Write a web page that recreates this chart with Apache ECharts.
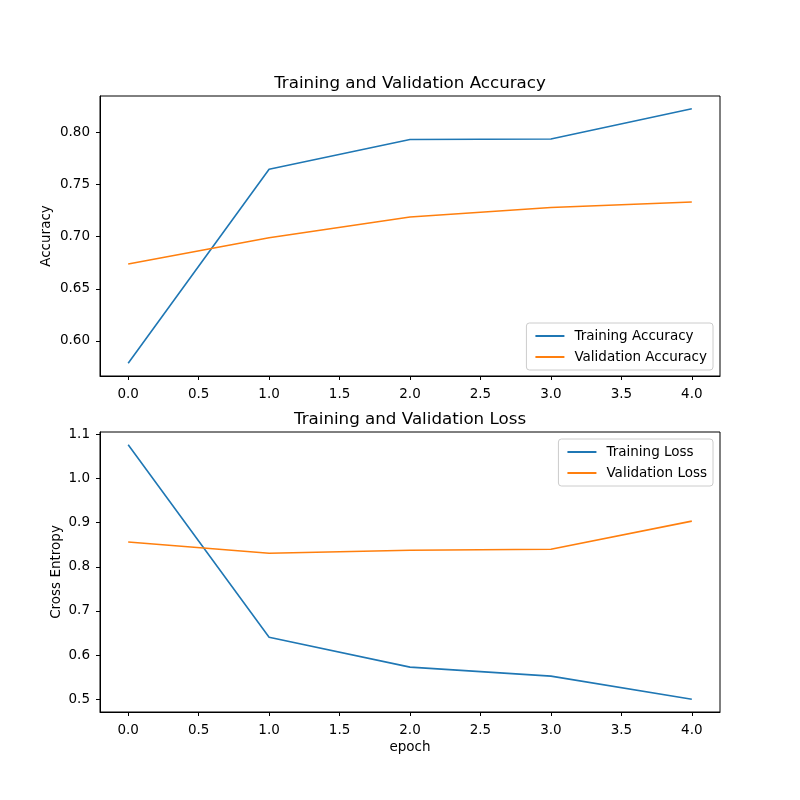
<!DOCTYPE html>
<html>
<head>
<meta charset="utf-8">
<script src="https://cdn.jsdelivr.net/npm/echarts@6/dist/echarts.min.js"></script>
<style>html,body{margin:0;padding:0;background:#fff;}#c{width:800px;height:800px;}</style>
</head>
<body>
<div id="c"></div>
<script>
const epochs = [0, 1, 2, 3, 4];
const trainAcc = [0.5786, 0.7648, 0.7933, 0.7937, 0.8228];
const valAcc = [0.6738, 0.6990, 0.7190, 0.7280, 0.7333];
const trainLoss = [1.0767, 0.6407, 0.5729, 0.5525, 0.5000];
const valLoss = [0.8563, 0.8307, 0.8375, 0.8398, 0.9036];
const xTicks = [0, 0.5, 1, 1.5, 2, 2.5, 3, 3.5, 4];
const accTicks = [0.60, 0.65, 0.70, 0.75, 0.80];
const lossTicks = [0.5, 0.6, 0.7, 0.8, 0.9, 1.0, 1.1];

const FONT = 'DejaVu Sans';
const pair = (xs, ys) => xs.map((x, i) => [x, ys[i]]);
function pad(arr) {
  const mn = Math.min(...arr), mx = Math.max(...arr), r = (mx - mn) * 0.05;
  return [mn - r, mx + r];
}
const accR = pad(trainAcc.concat(valAcc));
const lossR = pad(trainLoss.concat(valLoss));
const xR = pad(epochs);

function xAxis(gi, name) {
  return {
    type: 'value', gridIndex: gi, min: xR[0], max: xR[1],
    axisLine: { show: true, onZero: false, lineStyle: { color: '#000', width: 1 } },
    splitLine: { show: false },
    axisTick: { show: true, customValues: xTicks, length: 4, lineStyle: { color: '#000' } },
    axisLabel: { customValues: xTicks, margin: 11, color: '#000', fontFamily: FONT, fontSize: 13.5,
      formatter: v => v.toFixed(1) },
    name: name || '', nameLocation: 'middle', nameGap: 28,
    nameTextStyle: { color: '#000', fontFamily: FONT, fontSize: 13.5 }
  };
}
function yAxis(gi, rng, ticks, dec, name, gap) {
  return {
    type: 'value', gridIndex: gi, min: rng[0], max: rng[1],
    axisLine: { show: true, onZero: false, lineStyle: { color: '#000', width: 1 } },
    splitLine: { show: false },
    axisTick: { show: true, customValues: ticks, length: 4, lineStyle: { color: '#000' } },
    axisLabel: { customValues: ticks, margin: 10, color: '#000', fontFamily: FONT, fontSize: 13.5,
      formatter: v => v.toFixed(dec) },
    name: name, nameLocation: 'middle', nameGap: gap, nameMoveOverlap: false,
    nameTextStyle: { color: '#000', fontFamily: FONT, fontSize: 13.5 }
  };
}
function line(name, data, color, gi) {
  return {
    type: 'line', name: name, data: data, xAxisIndex: gi, yAxisIndex: gi,
    showSymbol: false, symbol: 'none', animation: false,
    lineStyle: { color: color, width: 1.6 }, itemStyle: { color: color }
  };
}
function legend(names, top, right) {
  return {
    data: names, orient: 'vertical', top: top, right: right,
    icon: 'rect', itemWidth: 29, itemHeight: 2, itemGap: 7,
    padding: [6, 6, 6, 9],
    backgroundColor: 'rgba(255,255,255,0.8)', borderColor: '#cccccc', borderWidth: 1, borderRadius: 3,
    textStyle: { color: '#000', fontFamily: FONT, fontSize: 13.5, padding: [0, 0, 0, 5] },
    selectedMode: false
  };
}

const chart = echarts.init(document.getElementById('c'), null, { renderer: 'canvas' });
chart.setOption({
  animation: false,
  backgroundColor: '#fff',
  grid: [
    { left: 100, top: 96, width: 620, height: 280, show: true, borderColor: '#000', borderWidth: 1, backgroundColor: 'transparent' },
    { left: 100, top: 432, width: 620, height: 280, show: true, borderColor: '#000', borderWidth: 1, backgroundColor: 'transparent' }
  ],
  xAxis: [xAxis(0), xAxis(1, 'epoch')],
  yAxis: [
    yAxis(0, accR, accTicks, 2, 'Accuracy', 47),
    yAxis(1, lossR, lossTicks, 1, 'Cross Entropy', 37)
  ],
  legend: [
    legend(['Training Accuracy', 'Validation Accuracy'], 323, 87),
    legend(['Training Loss', 'Validation Loss'], 439, 87)
  ],
  graphic: [
    { type: 'text', x: 410, y: 84, style: { text: 'Training and Validation Accuracy', font: '16.7px "DejaVu Sans"', fill: '#000', align: 'center', verticalAlign: 'middle' } },
    { type: 'text', x: 410, y: 419.5, style: { text: 'Training and Validation Loss', font: '16.7px "DejaVu Sans"', fill: '#000', align: 'center', verticalAlign: 'middle' } }
  ],
  series: [
    line('Training Accuracy', pair(epochs, trainAcc), '#1f77b4', 0),
    line('Validation Accuracy', pair(epochs, valAcc), '#ff7f0e', 0),
    line('Training Loss', pair(epochs, trainLoss), '#1f77b4', 1),
    line('Validation Loss', pair(epochs, valLoss), '#ff7f0e', 1)
  ]
});
</script>
</body>
</html>
